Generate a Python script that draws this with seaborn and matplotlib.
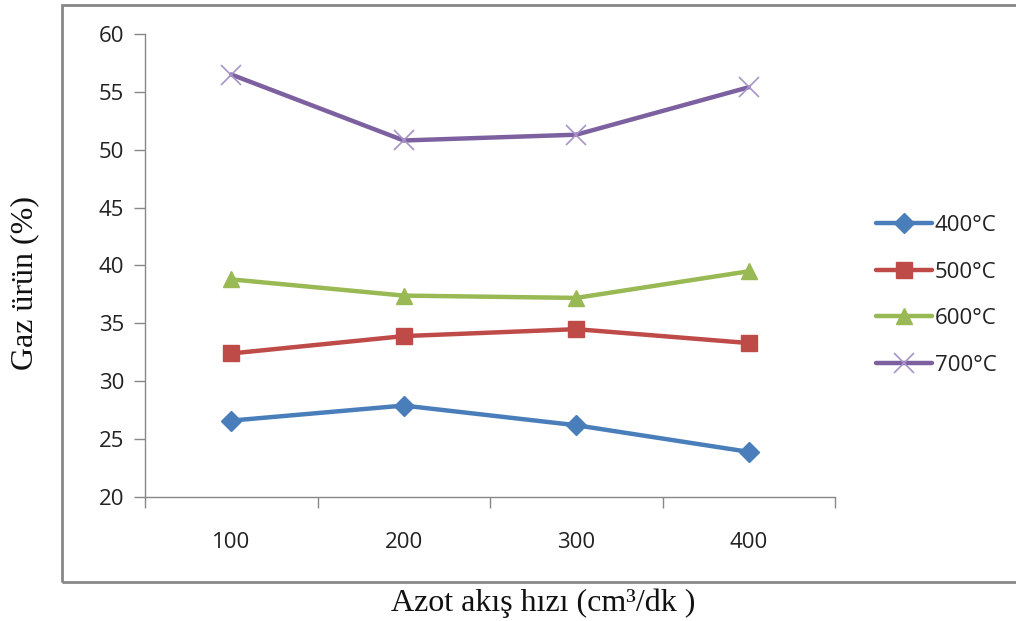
import matplotlib
matplotlib.use("Agg")
import matplotlib.pyplot as plt
from matplotlib.patches import Rectangle
import seaborn as sns
import pandas as pd

# Nitrogen flow rate (cm3/dk) and gas yield (%) per pyrolysis temperature
flow_rates = ["100", "200", "300", "400"]
gas_400 = [26.6, 27.9, 26.2, 23.9]
gas_500 = [32.4, 33.9, 34.5, 33.3]
gas_600 = [38.8, 37.4, 37.2, 39.5]
gas_700 = [56.5, 50.8, 51.3, 55.4]
series_labels = ["400°C", "500°C", "600°C", "700°C"]
y_ticks = [20, 25, 30, 35, 40, 45, 50, 55, 60]

series_values = [gas_400, gas_500, gas_600, gas_700]
df = pd.DataFrame(
    [(fr, v, lab) for lab, vals in zip(series_labels, series_values)
     for fr, v in zip(flow_rates, vals)],
    columns=["flow", "gas", "temp"],
)

sns.set_style("white")
plt.rcParams["font.family"] = ["Open Sans", "DejaVu Sans"]

colors = ["#4A7EBB", "#BE4B48", "#98B954", "#7D60A0"]
markers = ["D", "s", "^", "x"]
msizes = [10, 12, 12, 14]

fig = plt.figure(figsize=(10.16, 6.21), dpi=100)
ax = fig.add_axes([145 / 1016, 1 - 497 / 621, (835 - 145) / 1016, (497 - 34) / 621])

for lab, col, mk, ms in zip(series_labels, colors, markers, msizes):
    sub = df[df["temp"] == lab]
    sns.lineplot(data=sub, x="flow", y="gas", ax=ax, color=col, lw=3.2,
                 marker=mk, markersize=ms, label=lab,
                 markeredgecolor=("#A894C8" if mk == "x" else col),
                 markeredgewidth=(1.2 if mk == "x" else 1), sort=False)

ax.set_xlim(-0.5, 3.5)
ax.set_ylim(20, 60)
ax.set_yticks(y_ticks)
ax.set_yticklabels([str(t) for t in y_ticks])
ax.set_xticks(range(len(flow_rates)))
ax.set_xticklabels(flow_rates)
ax.set_xticks([i - 0.5 for i in range(len(flow_rates) + 1)], minor=True)
ax.tick_params(axis="x", which="major", length=0, pad=25, labelsize=16, colors="#222222")
ax.tick_params(axis="x", which="minor", length=8, width=1, color="#888888", direction="out", bottom=True)
ax.tick_params(axis="y", length=8, width=1, color="#888888", direction="out", left=True,
               labelsize=16, labelcolor="#222222", pad=7)
for s in ["top", "right"]:
    ax.spines[s].set_visible(False)
for s in ["left", "bottom"]:
    ax.spines[s].set_color("#888888")
    ax.spines[s].set_linewidth(1)

ax.set_xlabel("")
ax.set_ylabel("")
serif = ["Liberation Serif", "DejaVu Serif"]
fig.text(543 / 1016, 1 - 603 / 621, "Azot akış hızı (cm³/dk )", ha="center", va="center",
         fontsize=23, family=serif, color="#111111")
fig.text(25 / 1016, 1 - 283 / 621, "Gaz ürün (%)", ha="center", va="center", rotation=90,
         fontsize=23, family=serif, color="#111111")

leg = ax.legend(loc="upper left", bbox_to_anchor=(856 / 1016, 1 - 195 / 621),
                bbox_transform=fig.transFigure, frameon=False, fontsize=16,
                handlelength=2.5, handletextpad=0.15, labelspacing=1.15, numpoints=1)
for t in leg.get_texts():
    t.set_color("#222222")

# Chart-area border
fig.patches.append(Rectangle((62 / 1016, 1 - 582 / 621), 1.0, (582 - 5) / 621,
                             transform=fig.transFigure, fill=False,
                             edgecolor="#888888", lw=2, zorder=0))

fig.savefig("out.png", dpi=100)
